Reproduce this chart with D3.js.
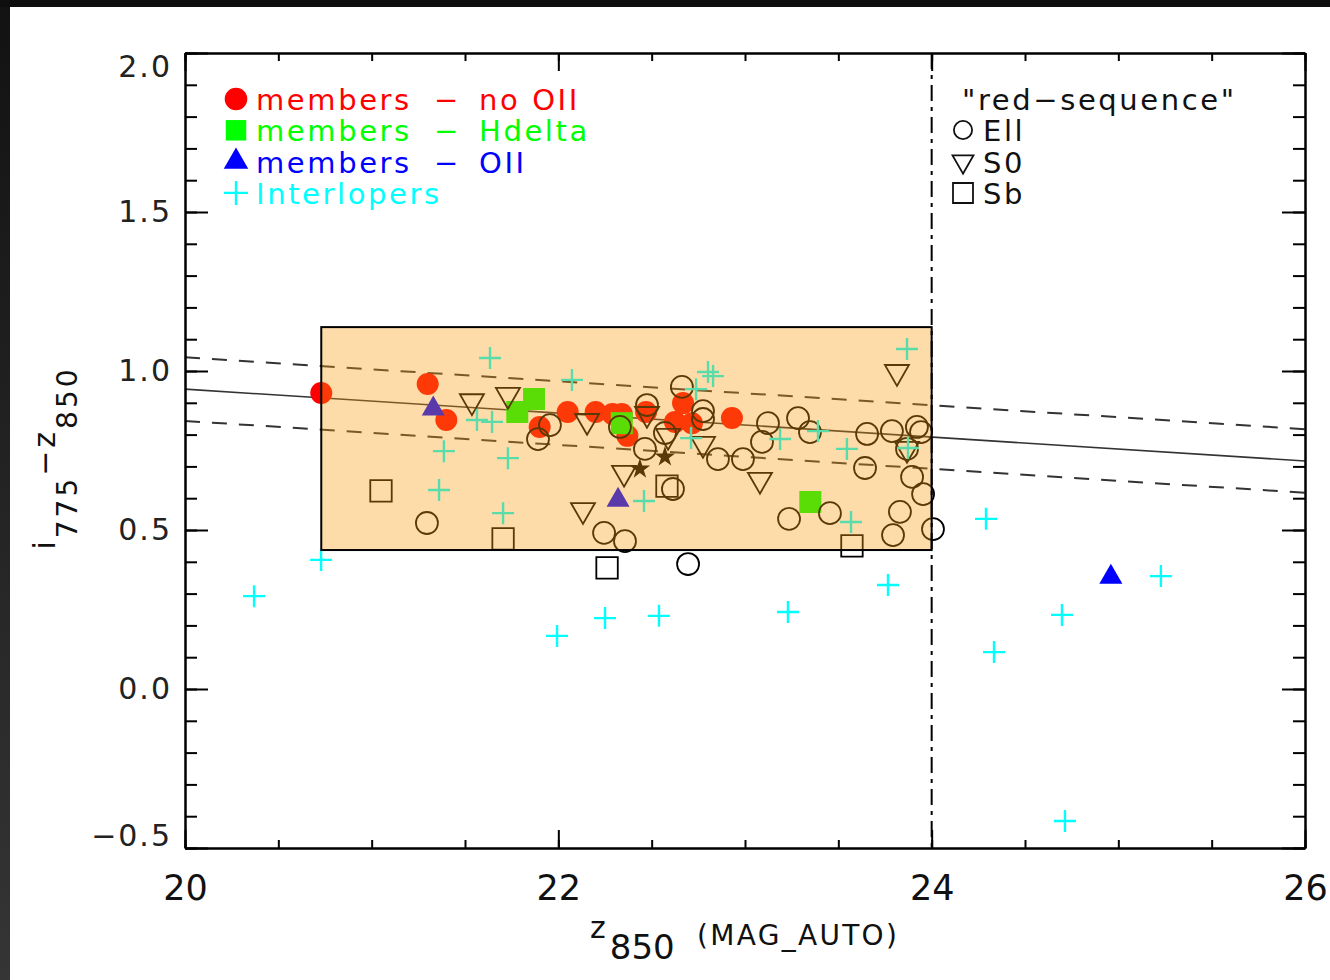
<!DOCTYPE html>
<html>
<head>
<meta charset="utf-8">
<script src="https://cdn.jsdelivr.net/npm/d3@7"></script>
<style>
  body { margin: 0; background: #fff; }
  svg { display: block; font-family: "DejaVu Sans", sans-serif; }
</style>
</head>
<body>
<svg width="1330" height="980"></svg>
<script>
// members - no OII (red filled circles)
const noOIIx = [20.73, 21.30, 21.40, 21.90, 22.05, 22.20, 22.29, 22.34, 22.37, 22.47, 22.668, 22.625, 22.716, 22.93];
const noOIIy = [0.931, 0.959, 0.846, 0.824, 0.871, 0.871, 0.865, 0.865, 0.796, 0.871, 0.899, 0.840, 0.836, 0.852];

// members - Hdelta (green squares)
const hdeltaX = [21.87, 21.78, 22.34, 23.35];
const hdeltaY = [0.912, 0.871, 0.836, 0.588];

// members - OII (blue triangles)
const oiiX = [21.33, 22.32, 24.96];
const oiiY = [0.881, 0.594, 0.352];

// interlopers (cyan crosses)
const interX = [21.634, 22.073, 21.564, 21.645, 21.387, 21.730, 21.361, 21.704, 22.802, 22.829, 22.738, 22.711,
  23.188, 23.391, 23.546, 23.868, 23.873, 22.459, 23.568, 20.729, 20.370, 21.993, 22.250, 22.539, 23.230, 23.766,
  24.291, 25.228, 24.698, 24.334, 24.714];
const interY = [1.041, 0.972, 0.846, 0.840, 0.748, 0.726, 0.626, 0.553, 0.997, 0.984, 0.943, 0.789,
  0.786, 0.811, 0.755, 1.069, 0.758, 0.591, 0.525, 0.406, 0.292, 0.167, 0.223, 0.230, 0.242, 0.327,
  0.535, 0.355, 0.233, 0.116, -0.415];

// red-sequence: Ell (open circles)
const ellX = [21.296, 21.955, 21.891, 22.245, 22.357, 22.330, 22.464, 22.475, 22.571, 22.614, 22.662, 22.775, 22.775,
  22.855, 22.989, 23.091, 23.123, 23.284, 23.348, 23.236, 23.455, 23.654, 23.643, 23.787, 23.921, 23.943, 23.868,
  23.895, 23.954, 23.830, 23.793, 24.007, 22.695];
const ellY = [0.522, 0.830, 0.786, 0.491, 0.465, 0.824, 0.755, 0.893, 0.805, 0.629, 0.950, 0.874, 0.849,
  0.723, 0.723, 0.777, 0.836, 0.852, 0.808, 0.535, 0.553, 0.802, 0.695, 0.811, 0.824, 0.808, 0.755,
  0.667, 0.613, 0.557, 0.484, 0.503, 0.393];

// red-sequence: S0 (open down triangles)
const s0X = [21.537, 21.730, 22.154, 22.132, 22.352, 22.475, 22.588, 22.775, 23.080, 23.814, 23.868];
const s0Y = [0.905, 0.925, 0.843, 0.563, 0.680, 0.865, 0.796, 0.771, 0.658, 0.997, 0.755];

// red-sequence: Sb (open squares)
const sbX = [21.050, 21.704, 22.261, 22.582, 23.573];
const sbY = [0.623, 0.472, 0.381, 0.638, 0.450];

// two unlabelled star symbols
const starX = [22.437, 22.571];
const starY = [0.692, 0.730];

// red-sequence fit and +-0.1 band
const fitX = [20, 26];
const fitY = [0.943, 0.717];
const band = 0.1;

// selection box and magnitude limit
const boxX = [20.73, 24.0];
const boxY = [0.437, 1.138];
const magLimit = 24;

const xMajor = [20, 22, 24, 26];
const yMajor = [-0.5, 0.0, 0.5, 1.0, 1.5, 2.0];

const svg = d3.select("svg");

// dark strips on the top and left of the picture
const grad = svg.append("defs").append("linearGradient")
  .attr("id", "edge").attr("x1", 0).attr("y1", 0).attr("x2", 0).attr("y2", 1);
grad.append("stop").attr("offset", "0%").attr("stop-color", "#121212");
grad.append("stop").attr("offset", "100%").attr("stop-color", "#353535");
svg.append("rect").attr("x", 0).attr("y", 0).attr("width", 10).attr("height", 980).attr("fill", "url(#edge)");
svg.append("rect").attr("x", 0).attr("y", 0).attr("width", 1330).attr("height", 7).attr("fill", "#0e0e0e");

const x = d3.scaleLinear().domain([20, 26]).range([185, 1305]);
const y = d3.scaleLinear().domain([-0.5, 2.0]).range([848, 53]);

const plot = svg.append("g");
plot.append("clipPath").attr("id", "clip").append("rect")
  .attr("x", 185).attr("y", 53).attr("width", 1120).attr("height", 795);

// fit lines
const lineG = plot.append("g").attr("clip-path", "url(#clip)");
const line = d3.line().x(d => x(d[0])).y(d => y(d[1]));
[0, band, -band].forEach(off => {
  lineG.append("path")
    .attr("d", line(fitX.map((v, i) => [v, fitY[i] + off])))
    .attr("fill", "none")
    .attr("stroke", "#333")
    .attr("stroke-width", off === 0 ? 1.6 : 2)
    .attr("stroke-dasharray", off === 0 ? null : "15,12");
});

const pts = (xs, ys) => xs.map((v, i) => [v, ys[i]]);
const crossPath = "M-11,0H11M0,-11V11";

// member points
plot.selectAll("path.red").data(pts(noOIIx, noOIIy)).enter().append("path")
  .attr("d", d3.symbol().type(d3.symbolCircle).size(380))
  .attr("transform", d => `translate(${x(d[0])},${y(d[1])})`)
  .attr("fill", "#ff0000");
plot.selectAll("path.green").data(pts(hdeltaX, hdeltaY)).enter().append("path")
  .attr("d", d3.symbol().type(d3.symbolSquare).size(484))
  .attr("transform", d => `translate(${x(d[0])},${y(d[1])})`)
  .attr("fill", "#00ff00");
plot.selectAll("path.blue").data(pts(oiiX, oiiY)).enter().append("path")
  .attr("d", d3.symbol().type(d3.symbolTriangle).size(230))
  .attr("transform", d => `translate(${x(d[0])},${y(d[1])})`)
  .attr("fill", "#0000ff");

// red sequence open symbols
plot.selectAll("path.ell").data(pts(ellX, ellY)).enter().append("path")
  .attr("d", d3.symbol().type(d3.symbolCircle).size(380))
  .attr("transform", d => `translate(${x(d[0])},${y(d[1])})`)
  .attr("fill", "none").attr("stroke", "#000").attr("stroke-width", 1.8);
plot.selectAll("path.s0").data(pts(s0X, s0Y)).enter().append("path")
  .attr("d", d3.symbol().type(d3.symbolTriangle).size(250))
  .attr("transform", d => `translate(${x(d[0])},${y(d[1])}) rotate(180)`)
  .attr("fill", "none").attr("stroke", "#000").attr("stroke-width", 1.8);
plot.selectAll("path.sb").data(pts(sbX, sbY)).enter().append("path")
  .attr("d", d3.symbol().type(d3.symbolSquare).size(460))
  .attr("transform", d => `translate(${x(d[0])},${y(d[1])})`)
  .attr("fill", "none").attr("stroke", "#000").attr("stroke-width", 1.8);
plot.selectAll("path.star").data(pts(starX, starY)).enter().append("path")
  .attr("d", d3.symbol().type(d3.symbolStar).size(130))
  .attr("transform", d => `translate(${x(d[0])},${y(d[1])})`)
  .attr("fill", "#000");

// interlopers
plot.selectAll("path.inter").data(pts(interX, interY)).enter().append("path")
  .attr("d", crossPath)
  .attr("transform", d => `translate(${x(d[0])},${y(d[1])})`)
  .attr("fill", "none").attr("stroke", "#00ffff").attr("stroke-width", 2.4);

// translucent selection box drawn over the points
plot.append("rect")
  .attr("x", x(boxX[0])).attr("y", y(boxY[1]))
  .attr("width", x(boxX[1]) - x(boxX[0])).attr("height", y(boxY[0]) - y(boxY[1]))
  .attr("fill", "rgb(250,158,19)").attr("fill-opacity", 0.36)
  .attr("stroke", "#000").attr("stroke-width", 2);

// magnitude limit
plot.append("line")
  .attr("x1", x(magLimit)).attr("x2", x(magLimit))
  .attr("y1", y(2.0)).attr("y2", y(-0.5))
  .attr("stroke", "#000").attr("stroke-width", 2)
  .attr("stroke-dasharray", "16,6,4,6");

// axes (ticks pointing inward)
function styleAxis(g) {
  g.select(".domain").attr("stroke", "#000").attr("stroke-width", 2);
  g.selectAll(".tick line").attr("stroke", "#000").attr("stroke-width", 2);
}
const axes = svg.append("g");
axes.append("g").attr("transform", `translate(0,${y(-0.5)})`)
  .call(d3.axisBottom(x).tickValues(x.ticks(12)).tickSize(-8).tickSizeOuter(0).tickFormat(""))
  .call(styleAxis);
const xa = axes.append("g").attr("transform", `translate(0,${y(-0.5)})`)
  .call(d3.axisBottom(x).tickValues(xMajor).tickSize(-18).tickSizeOuter(0).tickPadding(27).tickFormat(d3.format("d")))
  .call(styleAxis);
xa.selectAll("text").attr("font-family", "DejaVu Sans").attr("font-size", 35).attr("fill", "#111");

axes.append("g").attr("transform", `translate(0,${y(2.0)})`)
  .call(d3.axisTop(x).tickValues(x.ticks(12)).tickSize(-8).tickSizeOuter(0).tickFormat(""))
  .call(styleAxis);
axes.append("g").attr("transform", `translate(0,${y(2.0)})`)
  .call(d3.axisTop(x).tickValues(xMajor).tickSize(-18).tickSizeOuter(0).tickFormat(""))
  .call(styleAxis);

axes.append("g").attr("transform", `translate(${x(20)},0)`)
  .call(d3.axisLeft(y).tickValues(y.ticks(25)).tickSize(-12).tickSizeOuter(0).tickFormat(""))
  .call(styleAxis);
const ya = axes.append("g").attr("transform", `translate(${x(20)},0)`)
  .call(d3.axisLeft(y).tickValues(yMajor).tickSize(-23).tickSizeOuter(0).tickPadding(13).tickFormat(d3.format(".1f")))
  .call(styleAxis);
ya.selectAll("text")
  .attr("font-family", "DejaVu Sans").attr("font-size", 30).attr("fill", "#222")
  .attr("letter-spacing", 2)
  .attr("dy", d => d === 2 ? "0.79em" : d === -0.5 ? "-0.08em" : "0.32em");

axes.append("g").attr("transform", `translate(${x(26)},0)`)
  .call(d3.axisRight(y).tickValues(y.ticks(25)).tickSize(-12).tickSizeOuter(0).tickFormat(""))
  .call(styleAxis);
axes.append("g").attr("transform", `translate(${x(26)},0)`)
  .call(d3.axisRight(y).tickValues(yMajor).tickSize(-23).tickSizeOuter(0).tickFormat(""))
  .call(styleAxis);

// axis titles
const xt = svg.append("text").attr("x", 590).attr("y", 938).attr("fill", "#111");
xt.append("tspan").attr("font-size", 30).text("z");
xt.append("tspan").attr("font-size", 34).attr("dx", 4).attr("dy", 21).text("850");
svg.append("text").attr("x", 697).attr("y", 945).attr("font-size", 28).attr("letter-spacing", 2.3)
  .attr("fill", "#111").text("(MAG_AUTO)");

const yt = svg.append("text").attr("transform", "translate(55,458) rotate(-90)")
  .attr("text-anchor", "middle").attr("font-size", 30).attr("letter-spacing", 3).attr("fill", "#111");
yt.append("tspan").text("i");
yt.append("tspan").attr("font-size", 28).attr("dy", 22).text("775");
yt.append("tspan").attr("dy", -22).text("−z");
yt.append("tspan").attr("font-size", 28).attr("dy", 22).text("850");

// legend: member classes
const legRows = [
  { label: "no OII", color: "#ff0000", sym: "circle" },
  { label: "Hdelta", color: "#00ff00", sym: "square" },
  { label: "OII", color: "#0000ff", sym: "triangle" },
  { label: "Interlopers", color: "#00ffff", sym: "cross" }
];
const symType = { circle: d3.symbolCircle, square: d3.symbolSquare, triangle: d3.symbolTriangle };
const symSize = { circle: 400, square: 420, triangle: 260 };
const leg = svg.append("g").attr("font-size", 29).attr("letter-spacing", 2.6);
legRows.forEach((r, i) => {
  const base = 110 + i * 31.3;
  const cy = base - 11;
  if (r.sym === "cross") {
    leg.append("path").attr("d", "M-12,0H12M0,-12V12").attr("transform", `translate(236,${cy})`)
      .attr("stroke", r.color).attr("stroke-width", 2.4).attr("fill", "none");
    leg.append("text").attr("x", 256).attr("y", base).attr("fill", r.color).text(r.label);
  } else {
    leg.append("path").attr("d", d3.symbol().type(symType[r.sym]).size(symSize[r.sym]))
      .attr("transform", `translate(236,${cy})`).attr("fill", r.color);
    leg.append("text").attr("x", 256).attr("y", base).attr("fill", r.color).text("members");
    leg.append("text").attr("x", 434).attr("y", base).attr("fill", r.color).text("−");
    leg.append("text").attr("x", 479).attr("y", base).attr("fill", r.color).text(r.label);
  }
});

// legend: red sequence morphologies
const rs = svg.append("g").attr("font-size", 29).attr("letter-spacing", 2.6).attr("fill", "#111");
rs.append("text").attr("x", 962).attr("y", 110).text("\"red−sequence\"");
const rsRows = [
  { label: "Ell", type: d3.symbolCircle, size: 260, rot: 0 },
  { label: "S0", type: d3.symbolTriangle, size: 190, rot: 180 },
  { label: "Sb", type: d3.symbolSquare, size: 400, rot: 0 }
];
rsRows.forEach((r, i) => {
  const base = 141 + i * 31.5;
  rs.append("path").attr("d", d3.symbol().type(r.type).size(r.size))
    .attr("transform", `translate(963,${base - 11}) rotate(${r.rot})`)
    .attr("fill", "none").attr("stroke", "#111").attr("stroke-width", 1.8);
  rs.append("text").attr("x", 983).attr("y", base).text(r.label);
});
</script>
</body>
</html>
